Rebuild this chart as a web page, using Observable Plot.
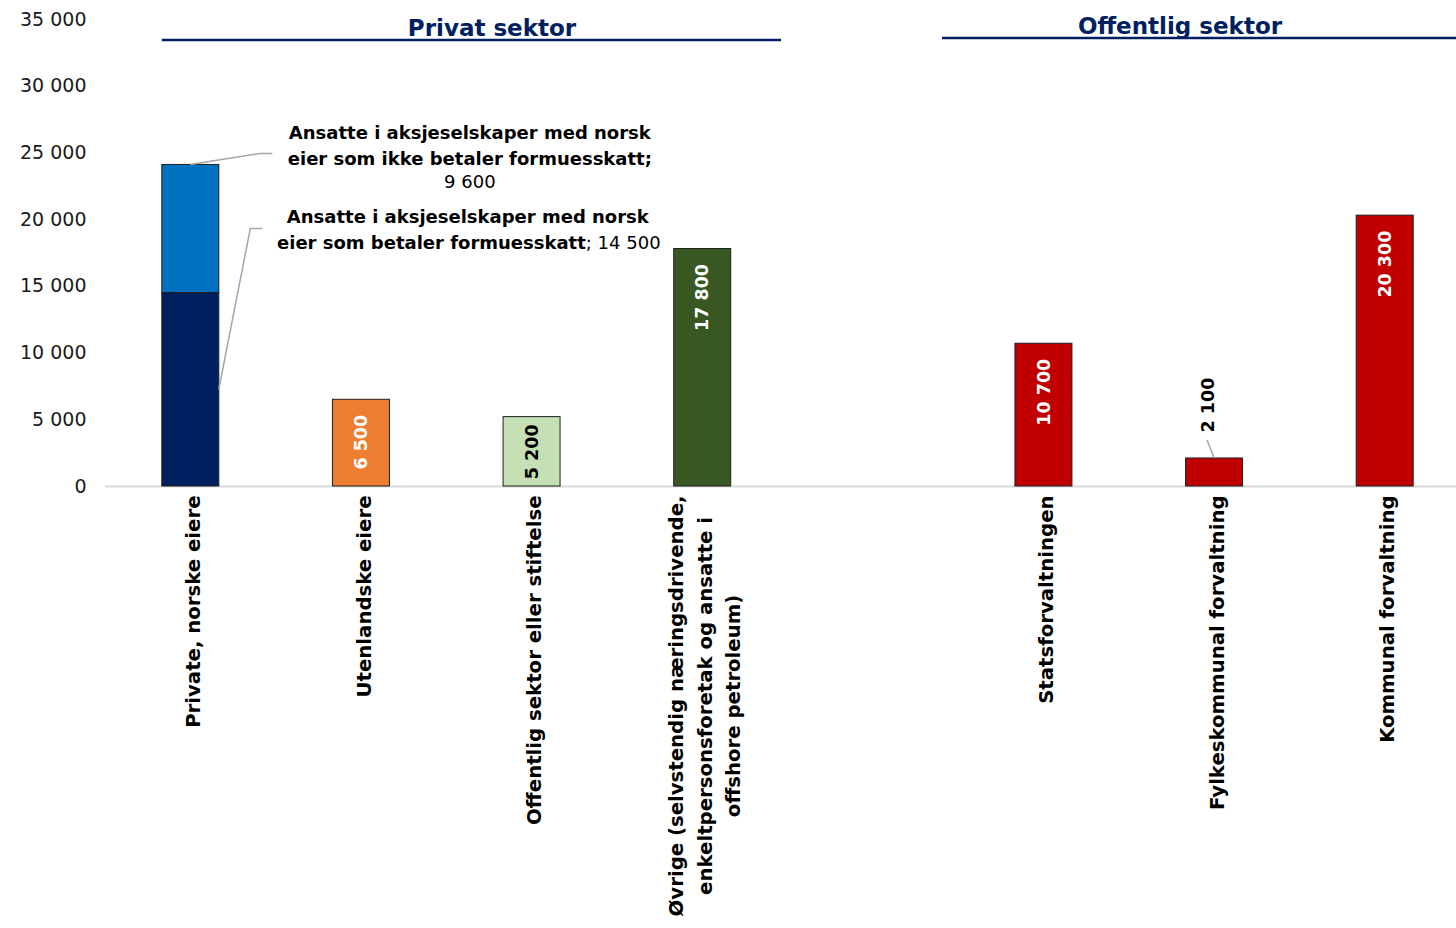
<!DOCTYPE html>
<html><head><meta charset="utf-8">
<script src="https://cdn.jsdelivr.net/npm/d3@7"></script>
<script src="https://cdn.jsdelivr.net/npm/@observablehq/plot@0.6"></script>
<style>
body{margin:0;background:#fff;}
#chart{position:relative;width:1456px;height:928px;overflow:hidden;}
</style>
</head><body><div id="chart"></div>
<script>
// ---- data ----
const categories = [
  "Private, norske eiere",
  "Utenlandske eiere",
  "Offentlig sektor eller stiftelse",
  "Øvrige (selvstendig næringsdrivende,\nenkeltpersonsforetak og ansatte i\noffshore petroleum)",
  " ",
  "Statsforvaltningen",
  "Fylkeskommunal forvaltning",
  "Kommunal forvaltning"
];
const segmentCategoryIndex = [0, 0, 1, 2, 3, 5, 6, 7];
const segmentSeries = [
  "Ansatte i aksjeselskaper med norsk eier som betaler formuesskatt",
  "Ansatte i aksjeselskaper med norsk eier som ikke betaler formuesskatt",
  "Utenlandske eiere",
  "Offentlig sektor eller stiftelse",
  "Øvrige",
  "Statsforvaltningen",
  "Fylkeskommunal forvaltning",
  "Kommunal forvaltning"
];
const segmentValues = [14500, 9600, 6500, 5200, 17800, 10700, 2100, 20300];
const segmentColors = ["#002060", "#0070C0", "#ED7D31", "#C5E0B4", "#385723", "#C00000", "#C00000", "#C00000"];
const valueLabelMode = ["none", "none", "inside", "center", "inside", "inside", "outside", "inside"];
const valueLabelColors = ["#fff", "#fff", "#fff", "#000", "#fff", "#fff", "#000", "#fff"];
const yTicks = [0, 5000, 10000, 15000, 20000, 25000, 30000, 35000];
const sectorTitles = ["Privat sektor", "Offentlig sektor"];
const annotationTop = ["Ansatte i aksjeselskaper med norsk\neier som ikke betaler formuesskatt;", "9 600"];
const annotationBottom = ["Ansatte i aksjeselskaper med norsk", "eier som betaler formuesskatt", "; 14 500"];

// ---- build rows ----
const fmt = d3.formatLocale({decimal: ",", thousands: " ", grouping: [3], currency: ["", ""]}).format(",");
const rows = segmentValues.map((v, i) => ({
  cat: categories[segmentCategoryIndex[i]],
  series: segmentSeries[i],
  value: v,
  color: segmentColors[i],
  mode: valueLabelMode[i],
  labelColor: valueLabelColors[i],
  label: fmt(v)
}));
const FONT = "'DejaVu Sans', 'Century Gothic', sans-serif";

const plot = Plot.plot({
  width: 1456,
  height: 928,
  marginTop: 19,
  marginBottom: 442,
  marginLeft: 105,
  marginRight: 0,
  style: {fontFamily: FONT, background: "#fff", overflow: "visible"},
  x: {domain: categories, range: [105, 1470], paddingInner: 0.666, paddingOuter: 0.333, round: false, label: null},
  y: {domain: [0, 35000], label: null},
  color: {type: "identity"},
  marks: [
    Plot.ruleY([0], {stroke: "#d9d9d9", strokeWidth: 2}),
    Plot.barY(rows, {x: "cat", y: "value", fill: "color", stroke: "#1f1f1f", strokeWidth: 1, inset: 0}),
    Plot.text(rows.filter(d => d.mode === "inside"), {
      x: "cat", y: "value", text: "label", fill: "labelColor",
      rotate: -90, textAnchor: "end", dy: 15, fontSize: 17.5, fontWeight: "bold"
    }),
    Plot.text(rows.filter(d => d.mode === "center"), {
      x: "cat", y: d => d.value / 2, text: "label", fill: "labelColor",
      rotate: -90, textAnchor: "middle", fontSize: 17.5, fontWeight: "bold"
    }),
    Plot.text(rows.filter(d => d.mode === "outside"), {
      x: "cat", y: "value", text: "label", fill: "labelColor",
      rotate: -90, textAnchor: "start", dy: -26, dx: -6, fontSize: 17.5, fontWeight: "bold"
    }),
    // annotations for the stacked bar
    Plot.text([rows[1]], {
      x: "cat", y: () => segmentValues[0] + segmentValues[1], text: () => annotationTop[0],
      dx: 279, dy: -21, lineHeight: 1.42, fontSize: 18, fontWeight: "bold", fill: "#000", textAnchor: "middle"
    }),
    Plot.text([rows[1]], {
      x: "cat", y: () => segmentValues[0] + segmentValues[1], text: () => annotationTop[1],
      dx: 279, dy: 17, fontSize: 18, fill: "#000", textAnchor: "middle"
    }),
    Plot.text([rows[0]], {
      x: "cat", y: "value", text: () => annotationBottom[0],
      dx: 277, dy: -76, fontSize: 18, fontWeight: "bold", fill: "#000", textAnchor: "middle"
    }),
    Plot.text([rows[0]], {
      x: "cat", y: "value", text: () => annotationBottom[1],
      dx: 395, dy: -50, fontSize: 18, fontWeight: "bold", fill: "#000", textAnchor: "end"
    }),
    Plot.text([rows[0]], {
      x: "cat", y: "value", text: () => annotationBottom[2],
      dx: 395, dy: -50, fontSize: 18, fill: "#000", textAnchor: "start"
    }),
    Plot.axisY({ticks: yTicks, tickFormat: fmt, tickSize: 0, tickPadding: 19, fontSize: 19, fill: "#1a1a1a", label: null}),
    Plot.axisX({
      tickSize: 0, tickPadding: 9, rotate: -90, textAnchor: "end", lineAnchor: "middle",
      lineHeight: 1.45, fontSize: 19.7, fontWeight: "bold", fill: "#000", label: null,
      tickFormat: d => d
    })
  ]
});

document.getElementById("chart").appendChild(plot);
const svg = d3.select(plot);

// center multi-line x tick labels while keeping the longest line against the axis
svg.selectAll("g[aria-label='x-axis tick label'] text").each(function() {
  const tspans = d3.select(this).selectAll("tspan");
  if (tspans.size() > 1) {
    let maxLen = 0;
    tspans.each(function() { maxLen = Math.max(maxLen, this.getComputedTextLength()); });
    tspans.attr("text-anchor", "middle").attr("x", -maxLen / 2);
  }
});

const xs = plot.scale("x"), ys = plot.scale("y");
const bw = xs.bandwidth;
const x0 = xs.apply(categories[0]);
const cx0 = x0 + bw / 2;
const topY = ys.apply(segmentValues[0] + segmentValues[1]);
const midDark = ys.apply(segmentValues[0] / 2);
const segTop = ys.apply(segmentValues[0]);
const lineGen = d3.line();
const leaders = svg.append("g").attr("fill", "none").attr("stroke", "#a6a6a6").attr("stroke-width", 1.5);
leaders.append("path").attr("d", lineGen([[cx0, topY], [cx0 + 70, topY - 11], [cx0 + 82, topY - 11]]));
leaders.append("path").attr("d", lineGen([[x0 + bw, midDark], [cx0 + 60, segTop - 64], [cx0 + 72, segTop - 64]]));
const cxF = xs.apply(categories[6]) + bw / 2;
const yF = ys.apply(segmentValues[6]);
leaders.append("path").attr("d", lineGen([[cxF, yF], [cxF - 7, yF - 18]]));

// sector headers
const hdr = svg.append("g").attr("font-family", FONT).attr("font-weight", "bold").attr("font-size", 23).attr("fill", "#002060");
hdr.append("text").attr("x", 492).attr("y", 36).attr("text-anchor", "middle").text(sectorTitles[0]);
hdr.append("line").attr("x1", x0).attr("x2", 781).attr("y1", 40).attr("y2", 40).attr("stroke", "#002060").attr("stroke-width", 2.5);
hdr.append("text").attr("x", 1180).attr("y", 34).attr("text-anchor", "middle").text(sectorTitles[1]);
hdr.append("line").attr("x1", 942).attr("x2", 1456).attr("y1", 38).attr("y2", 38).attr("stroke", "#002060").attr("stroke-width", 2.5);
</script>
</body></html>
